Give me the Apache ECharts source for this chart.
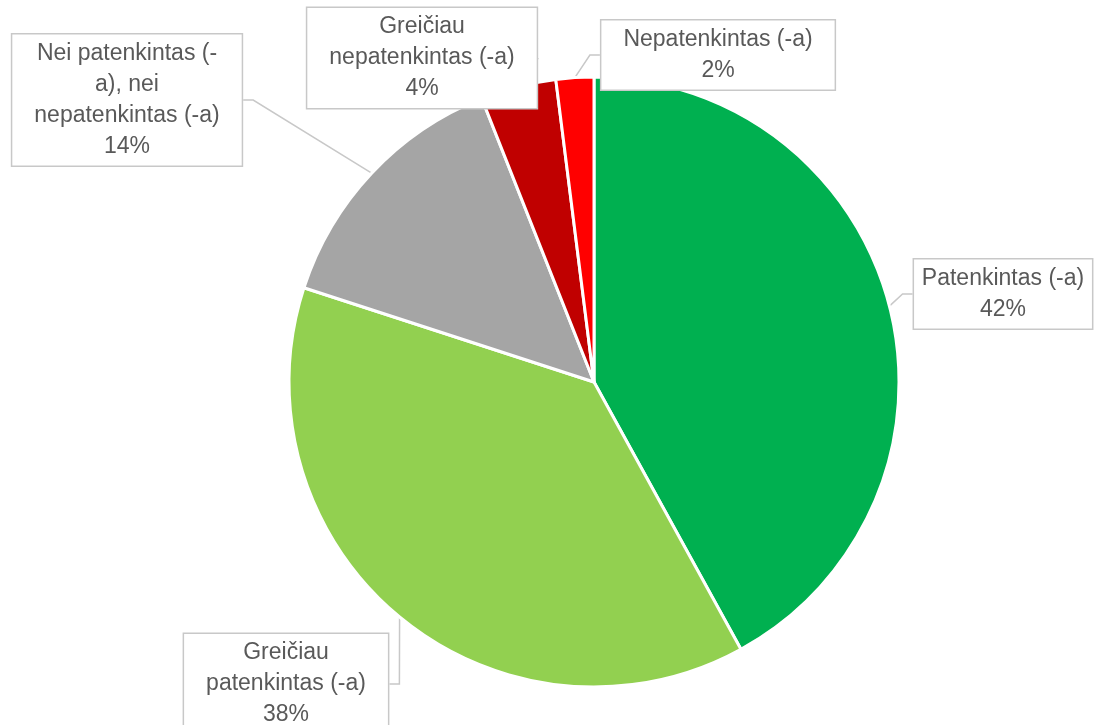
<!DOCTYPE html>
<html>
<head>
<meta charset="utf-8">
<script src="https://cdn.jsdelivr.net/npm/echarts@6/dist/echarts.min.js"></script>
<style>
	html, body { margin: 0; padding: 0; background: #fff; }
	#chart { width: 1102px; height: 725px; }
</style>
</head>
<body>
<div id="chart"></div>
<script>
var names = ['Patenkintas (-a)', 'Greičiau patenkintas (-a)', 'Nei patenkintas (-a), nei nepatenkintas (-a)', 'Greičiau nepatenkintas (-a)', 'Nepatenkintas (-a)'];
var values = [42, 38, 14, 4, 2];
// label text as it wraps in the boxes
var labelText = ['Patenkintas (-a)', 'Greičiau\npatenkintas (-a)', 'Nei patenkintas (-\na), nei\nnepatenkintas (-a)', 'Greičiau\nnepatenkintas (-a)', 'Nepatenkintas (-a)'];
var colors = ['#00B050', '#92D050', '#A5A5A5', '#C00000', '#FF0000'];

// where each callout box sits (centre)
var labelPos = [[1003, 294], [286, 684], [127, 100], [422, 58], [718, 55]];

var chart = echarts.init(document.getElementById('chart'));

var data = [];
for (var i = 0; i < values.length; i++) {
	data.push({
		name: names[i],
		value: values[i],
		itemStyle: { color: colors[i] }
	});
}

var option = {
	backgroundColor: '#fff',
	animation: false,
	series: [{
		type: 'pie',
		center: [594, 382],
		radius: 305,
		startAngle: 90,
		clockwise: true,
		data: data,
		itemStyle: {
			borderColor: '#fff',
			borderWidth: 3
		},
		label: {
			show: true,
			formatter: function (p) {
				return labelText[p.dataIndex] + '\n' + p.value + '%';
			},
			fontFamily: '"Liberation Sans", Arial, sans-serif',
			fontSize: 23,
			lineHeight: 31,
			color: '#595959',
			align: 'center',
			overflow: 'none',
			backgroundColor: '#fff',
			borderColor: '#C8C8C8',
			borderWidth: 1.5,
			padding: [4, 22, 3, 22]
		},
		labelLine: {
			show: true,
			length: 10,
			length2: 10,
			lineStyle: { color: '#C8C8C8', width: 1.5 }
		},
		labelLayout: function (params) {
			var pos = labelPos[params.dataIndex];
			return {
				x: pos[0],
				y: pos[1],
				align: 'center',
				verticalAlign: 'middle'
			};
		}
	}]
};

chart.setOption(option);
</script>
</body>
</html>
